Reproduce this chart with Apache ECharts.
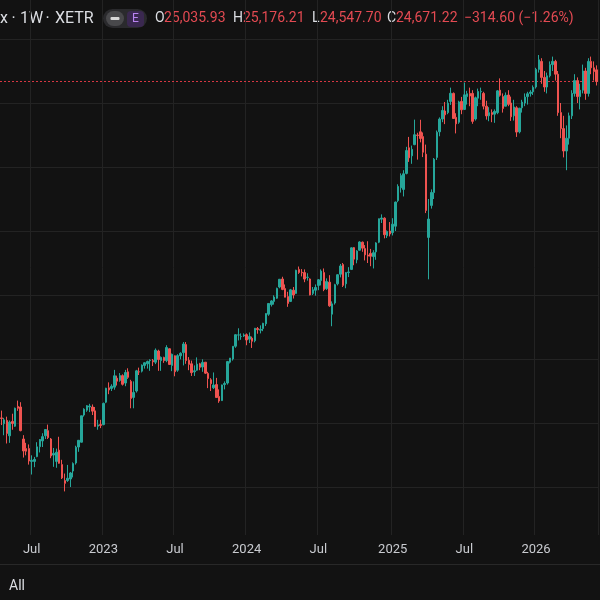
<!DOCTYPE html>
<html><head><meta charset="utf-8">
<script src="https://cdn.jsdelivr.net/npm/echarts@6/dist/echarts.min.js"></script>
<style>html,body{margin:0;padding:0;background:#121212;}#c{width:600px;height:600px;}</style>
</head><body><div id="c"></div>
<script>
// weekly candles [open, high, low, close], first week starting Monday 2022-04-18
const firstWeek = [2022, 3, 18];
const ohlc2022 = [
[14160,14387,13936,14142],[13980,14160,13617,14098],[14080,14198,13360,13674],[13600,14080,13380,14027],
[14050,14290,13790,13982],[13900,14480,13880,14462],[14520,14700,14380,14460],[14500,14650,13740,13762],
[13500,13620,12920,13126],[13200,13380,12990,13118],[13200,13330,12700,12813],[12800,12990,12390,12834],
[12800,12940,12620,12864],[12950,13400,12930,13254],[13260,13500,13080,13484],[13440,13680,13250,13574],
[13600,13800,13500,13795],[13760,13950,13500,13544],[13500,13530,12900,12971],[13000,13220,12630,13050],
[12800,13200,12600,13088],[13150,13570,12730,12741],[12700,12850,12250,12284],[12200,12420,11862,12114],
[12200,12690,12160,12273],[12250,12470,12000,12438],[12500,12770,12300,12731],[12750,13290,12700,13243],
[13250,13470,13100,13459],[13400,14230,13390,14225],[14250,14460,14200,14431],[14400,14560,14350,14541],
[14500,14600,14340,14529],[14500,14580,14250,14371],[14380,14500,13890,13894],[13900,14100,13790,13940],
[13950,14100,13840,13924]
];
const ohlc2023 = [
[13950,14640,13930,14610],[14650,15100,14620,15087],[15100,15270,14900,15033],[15080,15210,15000,15150],
[15120,15660,15040,15476],[15400,15480,15170,15307],[15330,15560,15290,15482],[15480,15520,15170,15210],
[15250,15660,15150,15578],[15600,15710,15380,15428],[15300,15350,14460,14768],[14800,15300,14460,14957],
[15000,15660,14950,15629],[15600,15730,15500,15598],[15620,15830,15580,15808],[15800,15900,15700,15882],
[15850,15950,15700,15922],[15950,15990,15630,15961],[15950,16000,15780,15914],[15900,16330,15840,16275],
[16250,16290,15630,15984],[15950,16080,15630,16051],[16050,16070,15880,15950],[15950,16430,15900,16358],
[16320,16330,15820,15830],[15800,16170,15620,16148],[16100,16110,15460,15603],[15650,16150,15600,16105],
[16100,16210,15990,16177],[16200,16530,15800,16469],[16450,16530,15850,15952],[15960,16060,15650,15832],
[15850,15950,15470,15574],[15600,15800,15470,15632],[15650,16050,15630,15840],[15850,15880,15650,15740],
[15750,15990,15600,15894],[15900,15900,15530,15557],[15550,15600,15090,15387],[15350,15400,15000,15229],
[15100,15580,15060,15187],[15200,15410,14800,14798],[14830,15050,14630,14687],[14700,15200,14690,15189],
[15200,15300,15050,15234],[15250,15940,15200,15919],[15900,16030,15860,16029],[16000,16400,15950,16397],
[16400,16770,16350,16759],[16750,16960,16580,16751],[16700,16800,16600,16706],[16720,16800,16690,16752]
];
const ohlc2024 = [
[16760,16800,16430,16594],[16620,16830,16500,16704],[16650,16700,16345,16555],[16570,16970,16520,16961],
[16950,17000,16790,16918],[16900,17050,16800,16926],[16950,17130,16870,17117],[17100,17430,17030,17419],
[17400,17740,17350,17735],[17700,17840,17640,17815],[17800,17990,17700,17936],[17900,18230,17880,18206],
[18250,18500,18210,18492],[18500,18570,18150,18175],[18200,18330,17930,17930],[17950,18100,17630,17737],
[17800,18190,17780,18161],[18150,18250,17890,18001],[18050,18790,18040,18773],[18800,18890,18660,18704],
[18710,18810,18580,18693],[18700,18800,18400,18498],[18550,18680,18450,18557],[18500,18520,17990,18002],
[18050,18250,18000,18164],[18150,18330,17980,18235],[18300,18500,18150,18475],[18450,18800,18300,18748],
[18700,18830,18120,18172],[18200,18520,18160,18418],[18400,18620,17630,17661],[17400,17800,17024,17723],
[17750,18350,17700,18322],[18350,18650,18300,18633],[18650,18970,18550,18907],[18950,19000,18250,18301],
[18350,18720,18210,18699],[18700,18870,18560,18720],[18800,19490,18780,19474],[19480,19500,18930,19121],
[19100,19400,18990,19374],[19400,19680,19390,19657],[19650,19670,19350,19464],[19450,19560,19080,19255],
[19250,19680,19000,19216],[19300,19440,18900,19211],[19200,19400,18830,19323],[19350,19650,19100,19626],
[19650,20390,19620,20384],[20370,20520,20250,20406],[20400,20430,19770,19884],[19850,20020,19780,19984],
[20000,20280,19830,19906]
];
const ohlc2025 = [
[19950,20400,19860,20214],[20150,20920,20000,20903],[20950,21460,20900,21394],[21350,21800,21200,21732],
[21300,21900,21080,21787],[21800,22630,21770,22513],[22600,22940,22160,22287],[22350,22670,22100,22551],
[22700,23480,22680,23009],[23000,23070,22230,22987],[23100,23476,22770,22892],[22950,23080,22310,22461],
[22400,22700,20560,20642],[19800,21000,18490,20374],[20800,21300,20700,21205],[21200,22280,21000,22242],
[22300,23140,22220,23087],[23100,23550,22960,23499],[23500,23900,23400,23767],[23750,24030,23340,23630],
[23700,24100,23650,23997],[24050,24480,23940,24304],[24300,24330,23510,23516],[23550,23680,23050,23350],
[23400,24070,23350,24033],[24050,24190,23650,23787],[23800,24640,23780,24255],[24200,24380,23950,24290],
[24300,24480,23900,24218],[24300,24400,23350,23426],[23500,24200,23450,24163],[24150,24450,23900,24359],
[24350,24480,24100,24363],[24300,24350,23800,23902],[23900,24070,23480,23597],[23600,23870,23430,23698],
[23700,23800,23400,23639],[23650,23800,23380,23739],[23700,24400,23650,24379],[24400,24770,24200,24241],
[24200,24300,23700,23830],[23900,24330,23900,24240],[24250,24400,23900,23958],[24000,24200,23440,23569],
[23600,24100,23450,23876],[23850,23900,22940,23091],[23100,23850,23050,23836],[23850,24100,23700,24028],
[24000,24300,23900,24186],[24200,24350,23950,24288],[24300,24400,24200,24340],[24350,24550,24250,24490]
];
const ohlc2026 = [
[24500,25100,24450,25050],[25050,25500,24950,25350],[25300,25400,24600,24800],[24800,25000,24350,24500],
[24500,24950,24300,24850],[24850,25300,24800,25200],[25200,25450,25000,25300],[25300,25350,24700,24900],
[24900,25000,23600,23700],[23700,24000,22900,23200],[23200,23600,22300,22500],[22500,23300,21900,22900],
[22900,23700,22700,23600],[23600,24400,23500,24300],[24300,24900,24200,24700],[24700,24800,24000,24200],
[24200,24600,23800,24400],[24400,25200,24300,25000],[25000,25100,24100,24300],[24300,25400,24200,25300],
[25300,25450,24900,25100],[25100,25300,24700,24985.82],[25035.93,25176.21,24547.70,24671.22]
];
const priceGridLevels = [12000,14000,16000,18000,20000,22000,24000,26000];
const lastClose = 24671.22;
const headerSymbolParts = [['x', 0], ['·', 11.5], ['1W', 20], ['·', 45.5], ['XETR', 55]];
const headerValues = {O:'25,035.93', H:'25,176.21', L:'24,547.70', C:'24,671.22'};
const headerChange = '−314.60 (−1.26%)';

const allBars = [].concat(ohlc2022, ohlc2023, ohlc2024, ohlc2025, ohlc2026);
const t0 = Date.UTC(firstWeek[0], firstWeek[1], firstWeek[2]);
const dates = allBars.map((_, i) => new Date(t0 + i * 7 * 864e5).toISOString().slice(0, 10));
const candles = allBars.map(r => [r[0], r[3], r[2], r[1]]);
function isPeriodStart(idx) {
  const d = dates[idx]; if (!d) return false;
  const m = +d.slice(5, 7), day = +d.slice(8, 10);
  return (m === 1 || m === 7) && day <= 7;
}
const UP = '#26a69a', DOWN = '#ef5350', RED_TXT = '#e34a52', TXT = '#dcdee3';
const FONT = 'Roboto, "Noto Sans", sans-serif';
const GRID = '#232323';

const chart = echarts.init(document.getElementById('c'), null, {renderer: 'canvas'});
const hdr = [];
headerSymbolParts.forEach(p => {
  hdr.push({type:'text', x: p[1], y: 18.5, style:{text: p[0], fill: TXT, font: '16px ' + FONT, verticalAlign:'middle'}});
});
hdr.push({type:'rect', shape:{x:103, y:9, width:44, height:19, r:9.5}, style:{fill:'#2a2a2d'}});
hdr.push({type:'rect', shape:{x:106, y:11, width:18, height:15, r:7.5}, style:{fill:'#48484b'}});
hdr.push({type:'rect', shape:{x:110.5, y:17, width:9, height:3, r:1}, style:{fill:'#d8d8d8'}});
hdr.push({type:'rect', shape:{x:127, y:11, width:17, height:16, r:4}, style:{fill:'#3a2850'}});
hdr.push({type:'text', x:135.5, y:19, style:{text:'E', fill:'#b983f0', font:'12px ' + FONT, align:'center', verticalAlign:'middle'}});
const keyPos = {O:[155,164], H:[233,243], L:[312,320], C:[387,396]};
Object.keys(headerValues).forEach(k => {
  hdr.push({type:'text', x:keyPos[k][0], y:18.5, style:{text:k, fill:TXT, font:'14px ' + FONT, verticalAlign:'middle'}});
  hdr.push({type:'text', x:keyPos[k][1], y:18.5, style:{text:headerValues[k], fill:RED_TXT, font:'14px ' + FONT, verticalAlign:'middle'}});
});
hdr.push({type:'text', x:464, y:18.5, style:{text:headerChange, fill:RED_TXT, font:'14px ' + FONT, verticalAlign:'middle'}});
hdr.push({type:'line', shape:{x1:0, y1:564.5, x2:600, y2:564.5}, style:{stroke:'#282828', lineWidth:1}});
hdr.push({type:'text', x:9, y:586, style:{text:'All', fill:TXT, font:'14px ' + FONT, verticalAlign:'middle'}});

chart.setOption({
  animation: false,
  backgroundColor: '#121212',
  grid: {left: -2, right: 2, top: 0, bottom: 65, containLabel: false},
  xAxis: {
    type: 'category', data: dates, boundaryGap: true,
    axisLine: {show: false}, axisTick: {show: false},
    axisLabel: {
      interval: (i) => isPeriodStart(i), color: '#c9cbd0', fontSize: 13, fontFamily: FONT, margin: 8,
      formatter: v => (+v.slice(5, 7) === 1 ? v.slice(0, 4) : 'Jul')
    },
    splitLine: {show: true, interval: (i) => isPeriodStart(i), lineStyle: {color: GRID, width: 1}}
  },
  yAxis: {
    type: 'value', min: 10500, max: 27218.75, scale: true,
    axisLine: {show: false}, axisTick: {show: false}, axisLabel: {show: false}, splitLine: {show: false}
  },
  series: [
    {
      type: 'line', data: [], z: 1, silent: true,
      markLine: {
        silent: true, symbol: 'none', label: {show: false}, animation: false,
        lineStyle: {color: GRID, width: 1, type: 'solid'},
        data: priceGridLevels.map(v => ({yAxis: v}))
      }
    },
    {
      type: 'candlestick', data: candles, z: 5, barWidth: 2,
      itemStyle: {color: UP, color0: DOWN, borderColor: UP, borderColor0: DOWN, borderWidth: 1},
      markLine: {
        silent: true, symbol: 'none', label: {show: false}, animation: false,
        lineStyle: {color: 'rgba(235,60,72,0.9)', width: 1, type: [2, 2]},
        data: [{yAxis: lastClose}]
      }
    }
  ],
  graphic: hdr
});
</script></body></html>
